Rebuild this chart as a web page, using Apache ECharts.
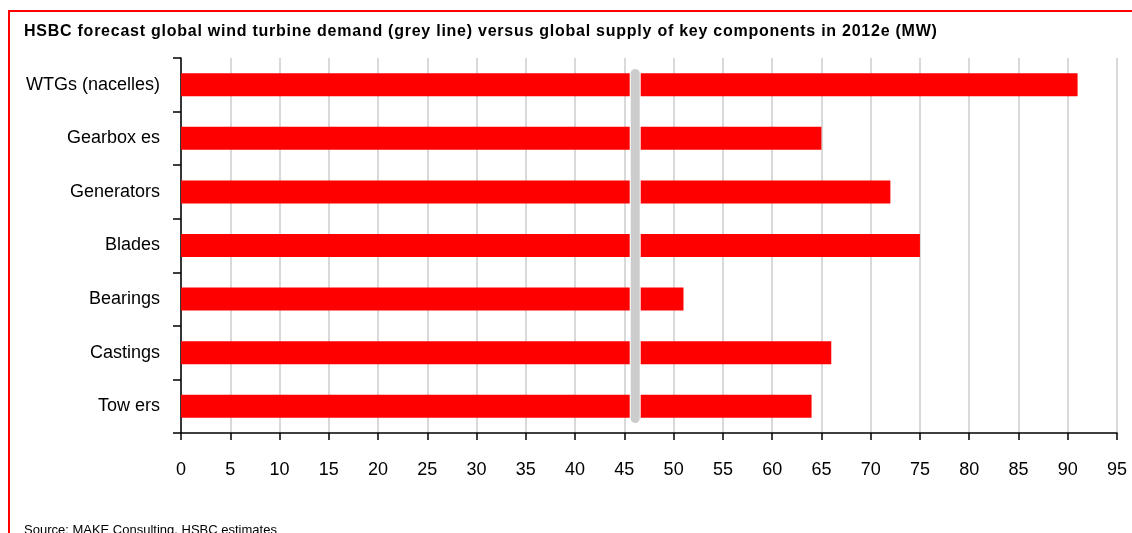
<!DOCTYPE html>
<html>
<head>
<meta charset="utf-8">
<script src="https://cdn.jsdelivr.net/npm/echarts@6/dist/echarts.min.js"></script>
<style>
  html, body { margin: 0; padding: 0; background: #fff; overflow: hidden; }
  #frame { position: absolute; left: 8px; top: 10px; width: 1200px; height: 600px;
           border-left: 2px solid #ff0000; border-top: 2px solid #ff0000; }
  #title { position: absolute; left: 24px; top: 22px; font: bold 16px "Liberation Sans", Arial, sans-serif; letter-spacing: 0.75px; color: #000; white-space: nowrap; }
  #source { position: absolute; left: 24px; top: 522px; font: 13px "Liberation Sans", Arial, sans-serif; color: #000; white-space: nowrap; }
  #chart { position: absolute; left: 0; top: 0; width: 1132px; height: 533px; }
</style>
</head>
<body>
<div id="frame"></div>
<div id="chart"></div>
<div id="title">HSBC forecast global wind turbine demand (grey line) versus global supply of key components in 2012e (MW)</div>
<div id="source">Source: MAKE Consulting, HSBC estimates</div>
<script>
// categories top to bottom, as in the source
var categories = ['WTGs (nacelles)', 'Gearbox es', 'Generators', 'Blades', 'Bearings', 'Castings', 'Tow ers'];
var supply = [91, 65, 72, 75, 51, 66, 64];
var demand = 46.1;
var xTicks = { min: 0, max: 95, interval: 5 };

var chart = echarts.init(document.getElementById('chart'));

// demand line runs nearly full height of the plot
var demandLine = [[demand, 0.27], [demand, 6.71]];

var option = {
  animation: false,
  grid: { left: 181, right: 15, top: 58, bottom: 100 },
  xAxis: {
    type: 'value',
    min: xTicks.min,
    max: xTicks.max,
    interval: xTicks.interval,
    axisLine: { show: true, lineStyle: { color: '#000', width: 1.5 } },
    axisTick: { show: true, length: 7, lineStyle: { color: '#000', width: 1.5 } },
    axisLabel: { color: '#000', fontSize: 18, margin: 28, fontFamily: 'Liberation Sans' },
    splitLine: { show: true, lineStyle: { color: '#cccccc', width: 1.5 } }
  },
  yAxis: [{
    type: 'category',
    data: categories,
    inverse: true,
    axisLine: { show: true, lineStyle: { color: '#000', width: 1.5 } },
    axisTick: { show: true, length: 8, lineStyle: { color: '#000', width: 1.5 } },
    axisLabel: { color: '#000', fontSize: 18, margin: 21, fontFamily: 'Liberation Sans' },
    splitLine: { show: false }
  }, {
    type: 'value',
    min: 0,
    max: 7,
    show: false
  }],
  series: [{
    type: 'bar',
    data: supply,
    barWidth: 23,
    itemStyle: { color: '#ff0000' }
  }, {
    type: 'line',
    yAxisIndex: 1,
    data: demandLine,
    symbol: 'none',
    lineStyle: { color: '#ffffff', width: 11, cap: 'round' },
    z: 3
  }, {
    type: 'line',
    yAxisIndex: 1,
    data: demandLine,
    symbol: 'none',
    lineStyle: { color: '#cccccc', width: 9, cap: 'round' },
    z: 4
  }]
};

chart.setOption(option);
</script>
</body>
</html>
